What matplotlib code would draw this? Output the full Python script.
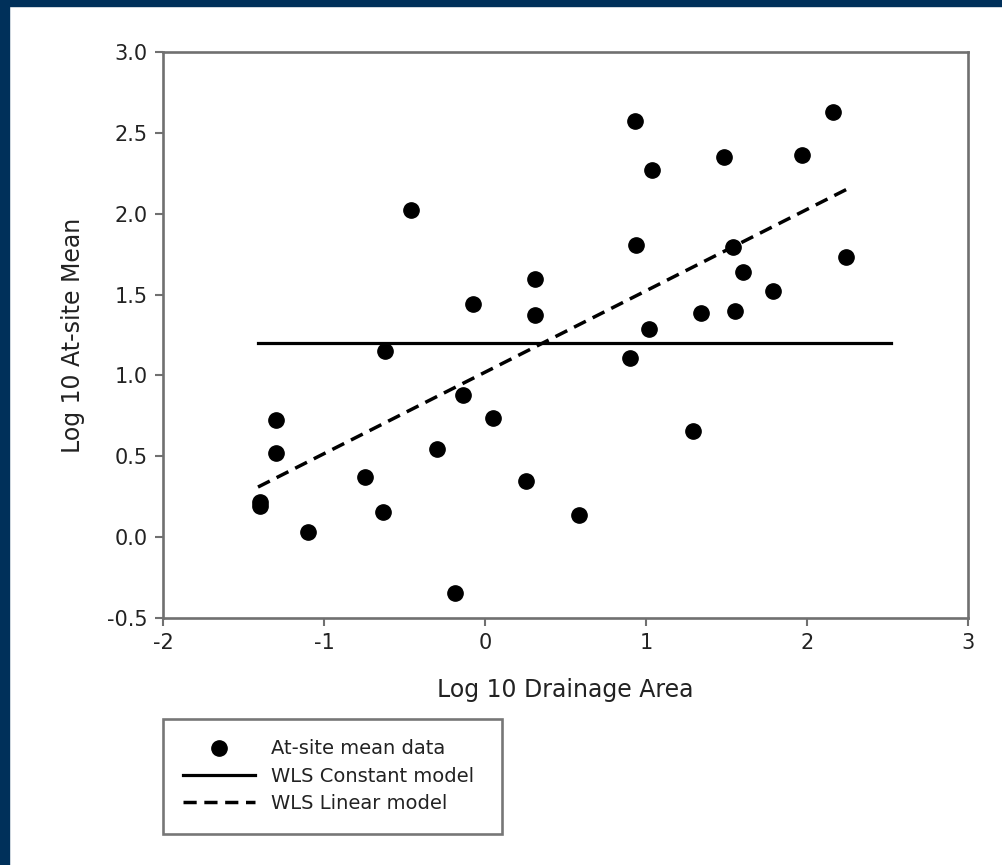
import matplotlib.pyplot as plt
from matplotlib.patches import Rectangle

# At-site mean data (log10 drainage area, log10 at-site mean)
site_x = [-1.398, -1.398, -1.298, -1.298, -1.097, -0.745, -0.635, -0.621, -0.46,
          -0.30, -0.186, -0.139, -0.076, 0.052, 0.255, 0.311, 0.311, 0.586, 0.90,
          0.932, 0.938, 1.02, 1.035, 1.294, 1.342, 1.484, 1.539, 1.553, 1.60,
          1.787, 1.967, 2.159, 2.24]
site_y = [0.22, 0.19, 0.724, 0.522, 0.033, 0.374, 0.157, 1.153, 2.02,
          0.545, -0.344, 0.879, 1.44, 0.735, 0.347, 1.596, 1.373, 0.135, 1.11,
          2.575, 1.806, 1.285, 2.27, 0.658, 1.388, 2.349, 1.796, 1.398, 1.638,
          1.522, 2.363, 2.631, 1.734]

# model lines
const_x = [-1.41, 2.52]
const_y = [1.20, 1.20]
lin_x = [-1.41, 2.245]
lin_y = [0.31, 2.15]

xticks = [-2, -1, 0, 1, 2, 3]
yticks = [-0.5, 0.0, 0.5, 1.0, 1.5, 2.0, 2.5, 3.0]

plt.rcParams['font.family'] = ['DejaVu Sans']

fig = plt.figure(figsize=(10.02, 8.65), dpi=100)
fig.patch.set_facecolor('white')

# navy frame strips on top and left edges
navy = '#00305a'
fig.patches.append(Rectangle((0, 0), 9 / 1002, 1, transform=fig.transFigure,
                             color=navy, zorder=0))
fig.patches.append(Rectangle((0, 1 - 6 / 865), 1, 6 / 865, transform=fig.transFigure,
                             color=navy, zorder=0))

ax = fig.add_axes([0.1627, 0.2855, 0.8033, 0.6544])

ax.plot(site_x, site_y, 'o', color='black', markersize=11, label='At-site mean data',
        zorder=3)
ax.plot(const_x, const_y, '-', color='black', linewidth=2.3, label='WLS Constant model')
ax.plot(lin_x, lin_y, color='black', linewidth=2.5, linestyle=(0, (3.8, 2.2)),
        label='WLS Linear model')

ax.set_xlim(-2, 3)
ax.set_ylim(-0.5, 3.0)
ax.set_xticks(xticks)
ax.set_xticklabels([str(t) for t in xticks])
ax.set_yticks(yticks)
ax.set_yticklabels(['%.1f' % t for t in yticks])

for s in ax.spines.values():
    s.set_color('#707070')
    s.set_linewidth(1.9)
ax.tick_params(direction='out', length=6, width=1.5, color='#707070',
               labelsize=15, labelcolor='#222222', pad=5)

ax.set_xlabel('Log 10 Drainage Area', fontsize=17, color='#222222', labelpad=18)
ax.set_ylabel('Log 10 At-site Mean', fontsize=17, color='#222222', labelpad=16)

leg = fig.legend(loc='upper left', bbox_to_anchor=(0.1627, 0.037, 0.338, 0.1318),
                 mode='expand', fontsize=14, frameon=True, fancybox=False,
                 handlelength=3.7, handletextpad=0.8, borderpad=1.05,
                 labelspacing=0.43, borderaxespad=0)
leg.get_frame().set_edgecolor('#555555')
leg.get_frame().set_linewidth(1.9)
for t in leg.get_texts():
    t.set_color('#222222')

fig.savefig('out.png', dpi=100)
